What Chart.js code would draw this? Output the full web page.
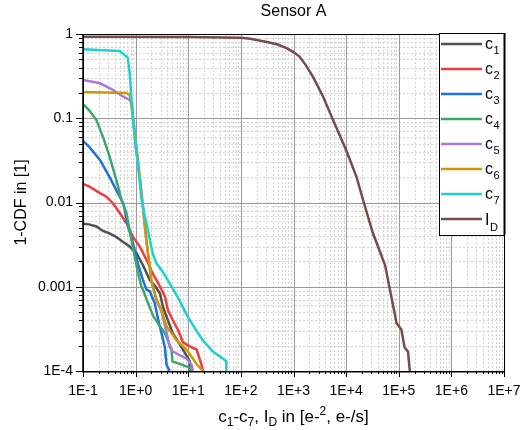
<!DOCTYPE html>
<html><head><meta charset="utf-8">
<script src="https://cdn.jsdelivr.net/npm/chart.js@4/dist/chart.umd.min.js"></script>
<style>html,body{margin:0;padding:0;background:#fff;overflow:hidden;}canvas{display:block;}</style>
</head><body><canvas id="c" width="527" height="430" style="width:527px;height:430px"></canvas>
<script>
const FONT = '"Liberation Sans", Arial, Helvetica, sans-serif';

// ---- data ----
const c1X = [0.1, 0.13, 0.18, 0.24, 0.32, 0.43, 0.58, 0.77, 1.04, 1.38, 1.86, 2.4, 2.9, 3.3, 4.1, 5.1, 6.5, 7.9, 10, 10.7, 10.7];
const c1Y = [0.0056, 0.0055, 0.0052, 0.0046, 0.0043, 0.0039, 0.0034, 0.003, 0.0025, 0.0018, 0.0012, 0.001, 0.00083, 0.00058, 0.0004, 0.00028, 0.00022, 0.00018, 0.00014, 0.00013, 0.0001];
const c2X = [0.1, 0.13, 0.21, 0.28, 0.37, 0.5, 0.67, 0.89, 1.2, 1.6, 2.15, 2.7, 3.6, 4.1, 5.1, 6.5, 7.9, 10, 14.4, 17.8, 19];
const c2Y = [0.0166, 0.0155, 0.0129, 0.0117, 0.0098, 0.0075, 0.0057, 0.0039, 0.003, 0.0021, 0.0014, 0.0011, 0.00077, 0.00053, 0.0004, 0.0003, 0.00022, 0.0002, 0.00018, 0.00012, 0.0001];
const c3X = [0.1, 0.13, 0.21, 0.32, 0.5, 0.58, 0.62, 0.72, 0.89, 1.1, 1.38, 1.6, 1.86, 2.3, 2.7, 3.1, 3.6, 3.85, 4.4];
const c3Y = [0.054, 0.046, 0.032, 0.020, 0.0117, 0.0098, 0.0082, 0.0052, 0.0033, 0.0019, 0.0012, 0.00093, 0.00088, 0.00064, 0.0004, 0.00028, 0.00019, 0.00012, 0.0001];
const c4X = [0.1, 0.13, 0.18, 0.24, 0.32, 0.43, 0.54, 0.67, 0.83, 0.96, 1.1, 1.29, 1.38, 1.72, 2.15, 2.9, 3.6, 4.8, 5.0, 10.7, 11.5];
const c4Y = [0.147, 0.125, 0.095, 0.06, 0.035, 0.0185, 0.0107, 0.0075, 0.0036, 0.0023, 0.0015, 0.001, 0.00092, 0.00064, 0.00045, 0.00034, 0.00028, 0.00018, 0.00013, 0.00011, 0.0001];
const c5X = [0.1, 0.21, 0.37, 0.58, 0.77, 0.85, 0.89, 1.0, 1.2, 1.37, 1.6, 2.0, 2.5, 3.1, 3.85, 4.5, 5.1, 9.3, 11.5, 12.3];
const c5Y = [0.285, 0.26, 0.217, 0.18, 0.165, 0.15, 0.104, 0.046, 0.02, 0.009, 0.0035, 0.00115, 0.00068, 0.00051, 0.00029, 0.00019, 0.00017, 0.00014, 0.00012, 0.0001];
const c6X = [0.1, 0.67, 0.77, 0.89, 1.04, 1.2, 1.37, 1.6, 2.0, 2.5, 3.1, 3.85, 6.0, 9.3, 14.5, 19];
const c6Y = [0.205, 0.2, 0.19, 0.104, 0.046, 0.020, 0.009, 0.0036, 0.00118, 0.0007, 0.00053, 0.00034, 0.00023, 0.00018, 0.00012, 0.0001];
const c7X = [0.1, 0.5, 0.71, 0.77, 0.88, 1.1, 1.3, 1.45, 1.6, 2.1, 2.48, 3.3, 4.45, 6.9, 9.2, 14.3, 19, 29.5, 46, 53, 53];
const c7Y = [0.66, 0.63, 0.52, 0.345, 0.104, 0.029, 0.011, 0.0075, 0.0057, 0.0025, 0.0019, 0.0015, 0.0011, 0.00068, 0.00047, 0.0003, 0.00023, 0.00017, 0.00014, 0.00013, 0.0001];
const idX = [0.1, 10, 100, 150, 300, 500, 740, 1000, 1300, 1700, 2350, 3660, 5660, 10000, 15800, 21000, 32000, 55000, 68000, 91000, 112000, 129000, 150000, 162000];
const idY = [0.93, 0.92, 0.9, 0.88, 0.81, 0.75, 0.68, 0.61, 0.54, 0.43, 0.31, 0.18, 0.095, 0.042, 0.020, 0.0107, 0.0044, 0.0018, 0.00092, 0.00037, 0.00031, 0.00019, 0.00017, 0.0001];

const legendBase = ['c', 'c', 'c', 'c', 'c', 'c', 'c', 'I'];
const legendSub = ['1', '2', '3', '4', '5', '6', '7', 'D'];
const seriesColors = ['#505050', '#F03C3C', '#1F6FDE', '#3DA66B', '#A97ADB', '#CC9900', '#1ECFD2', '#7A4A48'];
const xTickLabels = ['1E-1', '1E+0', '1E+1', '1E+2', '1E+3', '1E+4', '1E+5', '1E+6', '1E+7'];
const yTickLabels = ['1E-4', '0.001', '0.01', '0.1', '1'];
const titleText = 'Sensor A';
const yTitleText = '1-CDF in [1]';

const seriesX = [c1X, c2X, c3X, c4X, c5X, c6X, c7X, idX];
const seriesY = [c1Y, c2Y, c3Y, c4Y, c5Y, c6Y, c7Y, idY];

function isDecade(v) {
  const e = Math.round(Math.log10(v));
  return Math.abs(v / Math.pow(10, e) - 1) < 1e-6 ? e : null;
}

const datasets = seriesX.map((xs, i) => ({
  label: legendBase[i] + legendSub[i],
  data: xs.map((x, j) => ({x: x, y: seriesY[i][j]})),
  borderColor: seriesColors[i],
  backgroundColor: seriesColors[i],
  borderWidth: 2.5,
  pointRadius: 0,
  tension: 0,
  fill: false,
  order: 8 - i
}));

function crisp(v) { return Math.round(v) + 0.5; }

const gridPlugin = {
  id: 'gridPlugin',
  beforeDatasetsDraw(chart) {
    const {ctx, chartArea: a, scales: {x, y}} = chart;
    ctx.save();
    ctx.lineWidth = 1;
    ctx.strokeStyle = '#d2d2d2';
    ctx.setLineDash([2, 2]);
    for (let d = -1; d < 7; d++) for (let k = 2; k <= 9; k++) {
      const px = crisp(x.getPixelForValue(k * Math.pow(10, d)));
      ctx.beginPath(); ctx.moveTo(px, a.top); ctx.lineTo(px, a.bottom); ctx.stroke();
    }
    for (let d = -4; d < 0; d++) for (let k = 2; k <= 9; k++) {
      const py = crisp(y.getPixelForValue(k * Math.pow(10, d)));
      ctx.beginPath(); ctx.moveTo(a.left, py); ctx.lineTo(a.right, py); ctx.stroke();
    }
    ctx.setLineDash([]);
    ctx.strokeStyle = '#9a9a9a';
    for (let d = -1; d <= 7; d++) {
      const px = crisp(x.getPixelForValue(Math.pow(10, d)));
      ctx.beginPath(); ctx.moveTo(px, a.top); ctx.lineTo(px, a.bottom); ctx.stroke();
    }
    for (let d = -4; d <= 0; d++) {
      const py = crisp(y.getPixelForValue(Math.pow(10, d)));
      ctx.beginPath(); ctx.moveTo(a.left, py); ctx.lineTo(a.right, py); ctx.stroke();
    }
    ctx.restore();
  },
  afterDatasetsDraw(chart) {
    const {ctx, chartArea: a, scales: {x, y}} = chart;
    ctx.save();
    ctx.strokeStyle = '#000';
    ctx.lineWidth = 1;
    ctx.strokeRect(crisp(a.left), crisp(a.top), Math.round(a.right - a.left), Math.round(a.bottom - a.top));
    ctx.lineWidth = 1.5;
    ctx.beginPath(); ctx.moveTo(a.left, a.top); ctx.lineTo(a.left, a.bottom + 0.75); ctx.lineTo(a.right, a.bottom + 0.75); ctx.stroke();
    ctx.lineWidth = 1;
    for (let d = -1; d <= 7; d++) {
      for (let k = 1; k <= 9; k++) {
        if (d === 7 && k > 1) break;
        const px = crisp(x.getPixelForValue(k * Math.pow(10, d)));
        const len = k === 1 ? 6 : 3;
        ctx.beginPath(); ctx.moveTo(px, a.bottom); ctx.lineTo(px, a.bottom + len); ctx.stroke();
      }
    }
    for (let d = -4; d <= 0; d++) {
      for (let k = 1; k <= 9; k++) {
        if (d === 0 && k > 1) break;
        const py = crisp(y.getPixelForValue(k * Math.pow(10, d)));
        const len = k === 1 ? 7 : 4;
        ctx.beginPath(); ctx.moveTo(a.left - len, py); ctx.lineTo(a.left, py); ctx.stroke();
      }
    }
    ctx.restore();
  },
  afterDraw(chart) {
    const {ctx, chartArea: a} = chart;
    const cx = (a.left + a.right) / 2;
    ctx.save();
    ctx.fillStyle = '#000';
    ctx.font = '16px ' + FONT;
    ctx.textAlign = 'center'; ctx.textBaseline = 'middle';
    ctx.fillText(titleText, cx, 12);
    ctx.save();
    ctx.translate(22, (a.top + a.bottom) / 2);
    ctx.rotate(-Math.PI / 2);
    ctx.fillText(yTitleText, 0, 0);
    ctx.restore();
    const segs = [
      {t: 'c'}, {t: '1', s: 1}, {t: '-c'}, {t: '7', s: 1}, {t: ', I'}, {t: 'D', s: 1},
      {t: ' in [e-'}, {t: '2', s: -1}, {t: ', e-/s]'}
    ];
    const big = '17px ' + FONT, small = '12px ' + FONT;
    let w = 0;
    segs.forEach(s => { ctx.font = s.s ? small : big; s.w = ctx.measureText(s.t).width; w += s.w; });
    let xx = cx - w / 2;
    const base = 422;
    ctx.textAlign = 'left'; ctx.textBaseline = 'alphabetic';
    segs.forEach(s => {
      ctx.font = s.s ? small : big;
      const dy = s.s === 1 ? 4 : (s.s === -1 ? -7 : 0);
      ctx.fillText(s.t, xx, base + dy);
      xx += s.w;
    });
    // legend
    const lx0 = a.right - 65, lx1 = a.right, ly0 = a.top - 1, ly1 = 235;
    ctx.fillStyle = '#fff';
    ctx.fillRect(lx0, ly0, lx1 - lx0, ly1 - ly0);
    ctx.strokeStyle = '#000'; ctx.lineWidth = 1;
    ctx.strokeRect(crisp(lx0), crisp(ly0), Math.round(lx1 - lx0), Math.round(ly1 - ly0));
    ctx.lineWidth = 2;
    ctx.beginPath(); ctx.moveTo(a.right + 0.5, ly0); ctx.lineTo(a.right + 0.5, ly1); ctx.stroke();
    for (let i = 0; i < legendBase.length; i++) {
      const yy = 44 + 25 * i;
      ctx.strokeStyle = seriesColors[i]; ctx.lineWidth = 2.5;
      ctx.beginPath(); ctx.moveTo(lx0 + 2, yy); ctx.lineTo(lx0 + 43, yy); ctx.stroke();
      ctx.fillStyle = '#000';
      ctx.font = '16px ' + FONT;
      const isI = legendBase[i] === 'I';
      const tx = lx0 + 46;
      ctx.fillText(legendBase[i], tx, yy + (isI ? 6 : 4.5));
      const bw = ctx.measureText(legendBase[i]).width;
      ctx.font = '11px ' + FONT;
      ctx.fillText(legendSub[i], tx + bw + 0.5, yy + (isI ? 12 : 10));
    }
    ctx.restore();
  }
};

new Chart(document.getElementById('c'), {
  type: 'line',
  data: {datasets},
  options: {
    responsive: false,
    maintainAspectRatio: false,
    devicePixelRatio: 1,
    animation: false,
    events: [],
    layout: {autoPadding: false, padding: {top: 34, right: 23, left: 0, bottom: 0}},
    plugins: {legend: {display: false}, title: {display: false}, tooltip: {enabled: false}},
    scales: {
      x: {
        type: 'logarithmic', min: 0.1, max: 1e7,
        grid: {display: false, drawTicks: false},
        border: {display: false},
        afterFit(s) { s.height = 59; s.paddingLeft = 0; s.paddingRight = 0; },
        ticks: {
          autoSkip: false, maxRotation: 0, minRotation: 0, padding: 12,
          color: '#000', font: {family: FONT, size: 14},
          callback(v) { const e = isDecade(v); return e === null ? '' : xTickLabels[e + 1]; }
        }
      },
      y: {
        type: 'logarithmic', min: 1e-4, max: 1,
        grid: {display: false, drawTicks: false},
        border: {display: false},
        afterFit(s) { s.width = 83; s.paddingTop = 0; s.paddingBottom = 0; },
        ticks: {
          autoSkip: false, padding: 10,
          color: '#000', font: {family: FONT, size: 14},
          callback(v) { const e = isDecade(v); return e === null ? '' : yTickLabels[e + 4]; }
        }
      }
    }
  },
  plugins: [gridPlugin]
});
</script></body></html>
